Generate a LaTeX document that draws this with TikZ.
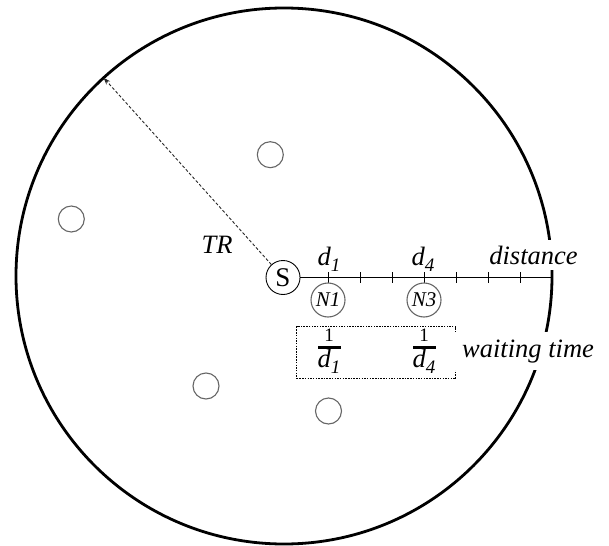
\documentclass[tikz,border=0pt]{standalone}
\usepackage{fontspec}
\setmainfont{Liberation Serif}
\usetikzlibrary{arrows.meta}
\newcommand\subn[1]{\raisebox{-6pt}{\fontsize{19}{19}\selectfont\itshape #1}}
\begin{document}
\begin{tikzpicture}[x=1pt,y=-1pt,
  lbl/.style={font=\fontsize{26.5}{30}\selectfont\itshape, inner sep=0pt},
  host/.style={circle, draw=black!60, line width=1.1pt, minimum size=26pt, inner sep=0pt},
  member/.style={circle, draw=black!60, line width=1.1pt, minimum size=34pt, inner sep=0pt, font=\fontsize{21}{24}\selectfont\itshape},
  axisline/.style={line width=0.9pt},
  numer/.style={font=\fontsize{19}{20}\selectfont, anchor=base, inner sep=0pt},
  fracbar/.style={line width=2.8pt}
]
\useasboundingbox (0,0) rectangle (609,545);
% transmission range
\node[circle, draw, line width=2.8pt, minimum size=536pt, inner sep=0pt] (range) at (284,276) {};
% other hosts
\node[host] (h1) at (71.3,219) {};
\node[host] (h2) at (206,386) {};
\node[host] (h3) at (328.5,411) {};
\node[host] (h4) at (270.3,154.7) {};
% source
\node[circle, draw, line width=0.9pt, minimum size=34pt, inner sep=0pt, font=\fontsize{27}{30}\selectfont] (S) at (283,277.5) {S};
% radius arrow
\coordinate (rim) at (103.6,77.8);
\draw[dash pattern=on 3pt off 2pt, line width=0.9pt, black!85, -{Stealth[length=7pt,width=5pt]}] (S) -- (rim);
\node[lbl, anchor=base] (TR) at (217,253) {TR};
% distance axis
\coordinate (axend) at (552,277.5);
\draw[axisline] (S.east) -- (axend);
\foreach \x in {328,360,392,424,456,488,520} \draw[axisline] (\x,272) -- (\x,283);
\node[member] (N1) at (328,300) {N1};
\node[member] (N3) at (424,300) {N3};
\node[lbl, anchor=base] (d1) at (329,265) {d\subn{1}};
\node[lbl, anchor=base] (d4) at (423,265) {d\subn{4}};
\node[lbl, anchor=base, fill=white, inner sep=6pt] (dist) at (533.5,264) {distance};
% waiting time box
\node[draw, dash pattern=on 1.5pt off 1.2pt, line width=0.8pt, minimum width=159pt, minimum height=52pt, inner sep=0pt] (wbox) at (376.2,352.8) {};
\node[numer] (n1) at (329,341.5) {1};
\coordinate (b1l) at (318.3,347.3);
\coordinate (b1r) at (340.7,347.3);
\draw[fracbar] (b1l) -- (b1r);
\node[lbl, anchor=base] (den1) at (329,367) {d\subn{1}};
\node[numer] (n4) at (424,341.5) {1};
\coordinate (b4l) at (413.3,347.3);
\coordinate (b4r) at (435.7,347.3);
\draw[fracbar] (b4l) -- (b4r);
\node[lbl, anchor=base] (den4) at (424,367) {d\subn{4}};
\node[lbl, anchor=base, fill=white, inner sep=7pt] (wt) at (528,357) {waiting time};
\end{tikzpicture}
\end{document}
